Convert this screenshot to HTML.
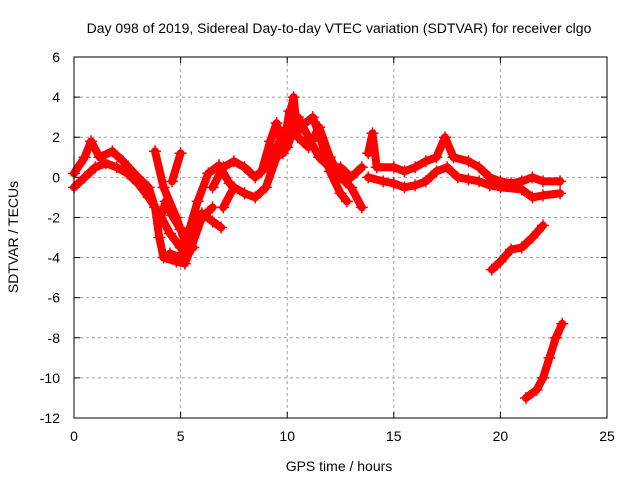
<!DOCTYPE html>
<html><head><meta charset="utf-8"><style>
body{margin:0;background:#fff}
svg text{font-family:"Liberation Sans",sans-serif;font-size:14px;fill:#000}
</style></head><body>
<svg id="chart" width="640" height="480" viewBox="0 0 640 480">
<text x="339" y="33" text-anchor="middle">Day 098 of 2019, Sidereal Day-to-day VTEC variation (SDTVAR) for receiver clgo</text>
<g id="grid"></g>
<g id="ticks"></g>
<g id="series"></g>
<rect x="74" y="57" width="533" height="361" fill="none" stroke="#000" stroke-width="1"/>
<text x="339" y="471" text-anchor="middle">GPS time / hours</text>
<text x="18" y="237" text-anchor="middle" transform="rotate(-90 18 237)">SDTVAR / TECUs</text>
</svg>
<script>
const xTicks=[0,5,10,15,20,25];
const yTicks=[6,4,2,0,-2,-4,-6,-8,-10,-12];
const track1=[[0,0.2],[0.5,1.0],[0.8,1.8],[1.2,1.0],[1.8,1.3],[2.3,0.8],[3,0],[3.5,-0.5],[3.8,-1.5],[4,-3],[4.2,-4],[4.8,-4.2],[5.2,-4.3],[5.5,-3.5],[6,-2],[6.5,-1.5]];
const track2=[[0,-0.5],[0.5,0],[1,0.5],[1.5,0.7],[2,0.5],[2.5,0.2],[3,-0.3],[3.5,-1],[4,-1.8],[4.5,-2.8],[5,-3.5],[5.3,-3.8],[5.6,-2.5],[6,-1.8],[6.5,-2.2],[6.9,-2.5]];
const track3=[[3.8,1.3],[4.2,-0.5],[4.8,-2],[5.2,-3.2],[5.6,-3.5]];
const track3b=[[4.6,-0.2],[5,1.2]];
const track4=[[6.5,-0.5],[7,0.5],[7.5,0.8],[8,0.5],[8.5,0],[9,0.5],[9.5,1.5],[10,2.5],[10.3,4],[10.5,2],[11,1.5],[11.5,2.5],[12,1],[12.5,0],[13,-0.5],[13.5,-1.5]];
const track5=[[7,-1.5],[7.5,-0.5],[8,-0.8],[8.5,-1.0],[9,-0.5],[9.5,1],[10,1.5],[10.5,3],[11,2],[11.5,1],[12,0.5],[12.5,0.5],[13,0],[13.5,0.5]];
const track6=[[13.8,1.2],[14,2.2],[14.2,0.5],[15,0.5],[15.5,0.3],[16,0.5],[16.5,0.8],[17,1],[17.4,2],[17.8,1],[18.5,0.8],[19,0.5],[19.5,0],[20,-0.2],[20.5,-0.3],[21,-0.2],[21.5,0],[22,-0.2],[22.8,-0.2]];
const track7=[[13.8,0],[14.5,-0.2],[15,-0.3],[15.5,-0.5],[16,-0.4],[16.5,-0.2],[17,0.3],[17.5,0.5],[18,0],[18.5,-0.1],[19,-0.2],[19.5,-0.4],[20,-0.5],[21,-0.6],[21.5,-1.0],[22,-0.9],[22.8,-0.8]];
const track8=[[19.6,-4.6],[20,-4.2],[20.5,-3.6],[21,-3.5],[21.5,-3],[22,-2.4]];
const track9=[[21.2,-11],[21.7,-10.6],[22,-10],[22.3,-9],[22.6,-8],[22.9,-7.3]];
const track10=[[8.8,0.3],[9.2,1.8],[9.5,2.7],[9.8,1.2],[10.1,3.3],[10.6,2.5],[11.2,3],[11.6,1.8],[12,0.3],[12.5,-0.8],[12.8,-1.2]];
const track11=[[4.5,-3.8],[5,-4],[5.3,-3],[5.8,-1.2],[6.3,0.2],[6.8,0.6],[7.3,-0.3]];
const track12=[[4,-2.3],[4.3,-1.2],[4.6,-1.9],[5,-2.6],[5.4,-2.8]];
const tracks=[track1,track2,track3,track3b,track4,track5,track6,track7,track8,track9,track10,track11,track12];
const NS="http://www.w3.org/2000/svg";
const X0=74,X1=607,Y0=57,Y1=418;
function xs(v){return X0+(v-0)/(25-0)*(X1-X0);}
function ys(v){return Y1-(v+12)/(18)*(Y1-Y0);}
function mk(t,a){const e=document.createElementNS(NS,t);for(const k in a)e.setAttribute(k,a[k]);return e;}
const grid=document.getElementById('grid'),ticks=document.getElementById('ticks'),ser=document.getElementById('series');
xTicks.forEach(v=>{const x=xs(v);
 if(v>0&&v<25){const g=mk('line',{x1:x,x2:x,y1:Y0,y2:Y1,stroke:'#a0a0a0','stroke-dasharray':'3,3'});
 
 grid.appendChild(g);}
 ticks.appendChild(mk('line',{x1:x,x2:x,y1:Y1,y2:Y1-6,stroke:'#000'}));
 ticks.appendChild(mk('line',{x1:x,x2:x,y1:Y0,y2:Y0+6,stroke:'#000'}));
 const l=mk('text',{x:x,y:Y1+23,'text-anchor':'middle'});l.textContent=v;
 
 ticks.appendChild(l);});
yTicks.forEach(v=>{const y=ys(v);
 if(v<6&&v>-12){const g=mk('line',{x1:X0,x2:X1,y1:y,y2:y,stroke:'#a0a0a0','stroke-dasharray':'3,3'});
 
 grid.appendChild(g);}
 ticks.appendChild(mk('line',{x1:X0,x2:X0+6,y1:y,y2:y,stroke:'#000'}));
 ticks.appendChild(mk('line',{x1:X1,x2:X1-6,y1:y,y2:y,stroke:'#000'}));
 const l=mk('text',{x:X0-14,y:y+5,'text-anchor':'end'});l.textContent=v;
 
 ticks.appendChild(l);});
tracks.forEach((tr,i)=>{
 const p=mk('polyline',{points:tr.map(d=>xs(d[0])+','+ys(d[1])).join(' '),fill:'none',stroke:'#f00','stroke-width':8,'stroke-linejoin':'round','stroke-linecap':'round'});
 
 ser.appendChild(p);
 tr.forEach(d=>{const x=xs(d[0]),y=ys(d[1]);
  const m=mk('path',{d:`M${x-6},${y}H${x+6}M${x},${y-6}V${y+6}`,stroke:'#f00','stroke-width':1.5});
  
  ser.appendChild(m);});
});
</script>
</body></html>
